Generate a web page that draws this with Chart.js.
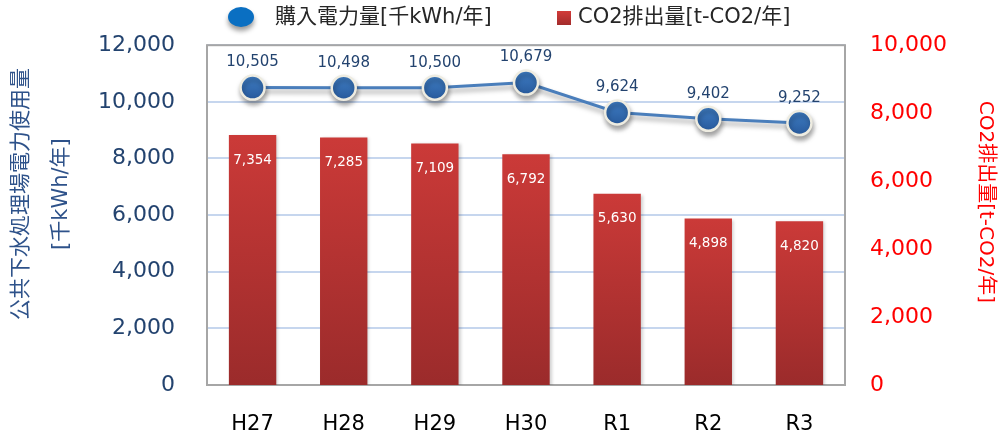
<!DOCTYPE html>
<html>
<head>
    <style>
        html, body { margin: 0; padding: 0; background: #ffffff; }
        .wrap { width: 999px; height: 434px; }
    </style>
</head>
<body>
    <div class="wrap"><canvas id="mixChart" width="999" height="434"></canvas></div>

    <script src="https://cdn.jsdelivr.net/npm/chart.js@4.4.1/dist/chart.umd.min.js"></script>
    <script>
        const years = ['H27', 'H28', 'H29', 'H30', 'R1', 'R2', 'R3'];
        const power = [10505, 10498, 10500, 10679, 9624, 9402, 9252];   // 千kWh/年
        const co2 = [7354, 7285, 7109, 6792, 5630, 4898, 4820];         // t-CO2/年
        const powerTicks = [0, 2000, 4000, 6000, 8000, 10000, 12000];
        const co2Ticks = [0, 2000, 4000, 6000, 8000, 10000];

        const powerLabel = '購入電力量[千kWh/年]';
        const co2Label = 'CO2排出量[t-CO2/年]';

        const FONT = "'DejaVu Sans', 'Noto Sans CJK JP', sans-serif";
        const BLUE_TEXT = '#23436f';
        const RED_TEXT = '#ff0000';

        const fmt = v => v.toLocaleString('en-US');

        // light blue grid lines + gray box around the chart area
        const framePlugin = {
            id: 'frame',
            beforeDatasetsDraw(chart) {
                const { ctx, chartArea: a } = chart;
                const y = chart.scales.y;
                ctx.save();
                ctx.strokeStyle = '#c6d6ee';
                ctx.lineWidth = 2;
                powerTicks.forEach(v => {
                    const py = Math.round(y.getPixelForValue(v));
                    ctx.beginPath();
                    ctx.moveTo(a.left, py);
                    ctx.lineTo(a.right, py);
                    ctx.stroke();
                });
                ctx.strokeStyle = '#a6a6a6';
                ctx.strokeRect(a.left, a.top, a.right - a.left, a.bottom - a.top);
                ctx.restore();
            }
        };

        // shadows under the line points and bars
        const shadowPlugin = {
            id: 'shadows',
            beforeDatasetDraw(chart, args) {
                const ctx = chart.ctx;
                ctx.save();
                if (args.meta.type === 'line') {
                    ctx.shadowColor = 'rgba(0,0,0,0.35)';
                    ctx.shadowBlur = 5;
                    ctx.shadowOffsetY = 4;
                    ctx.shadowOffsetX = 1;
                } else {
                    ctx.shadowColor = 'rgba(0,0,0,0.18)';
                    ctx.shadowBlur = 3;
                    ctx.shadowOffsetX = 2;
                    ctx.shadowOffsetY = 1;
                }
            },
            afterDatasetDraw(chart) {
                chart.ctx.restore();
            }
        };

        // value labels
        const labelPlugin = {
            id: 'valueLabels',
            afterDatasetsDraw(chart) {
                const ctx = chart.ctx;
                ctx.save();
                ctx.textAlign = 'center';
                ctx.textBaseline = 'middle';

                const barMeta = chart.getDatasetMeta(1);
                ctx.font = '13.5px ' + FONT;
                ctx.fillStyle = '#ffffff';
                barMeta.data.forEach((bar, i) => {
                    ctx.fillText(fmt(co2[i]), bar.x, bar.y + 25);
                });

                const lineMeta = chart.getDatasetMeta(0);
                ctx.font = '15px ' + FONT;
                ctx.fillStyle = BLUE_TEXT;
                lineMeta.data.forEach((pt, i) => {
                    ctx.fillText(fmt(power[i]), pt.x, pt.y - 25);
                });
                ctx.restore();
            }
        };

        // legend at the top
        const legendPlugin = {
            id: 'topLegend',
            afterDraw(chart) {
                const ctx = chart.ctx;
                ctx.save();
                ctx.shadowColor = 'rgba(0,0,0,0.4)';
                ctx.shadowBlur = 5;
                ctx.shadowOffsetY = 4;
                ctx.fillStyle = '#0a6fc2';
                ctx.beginPath();
                ctx.ellipse(241, 17, 13, 10, 0, 0, Math.PI * 2);
                ctx.fill();
                ctx.restore();

                ctx.save();
                const g = ctx.createLinearGradient(0, 11, 0, 25);
                g.addColorStop(0, '#d23b39');
                g.addColorStop(1, '#a32c2c');
                ctx.fillStyle = g;
                ctx.fillRect(557, 11, 14, 14);

                ctx.font = '21px ' + FONT;
                ctx.fillStyle = '#262626';
                ctx.textBaseline = 'middle';
                ctx.textAlign = 'left';
                ctx.fillText(powerLabel, 275, 18);
                ctx.fillText(co2Label, 578, 18);
                ctx.restore();
            }
        };

        const ctx = document.getElementById('mixChart').getContext('2d');

        new Chart(ctx, {
            type: 'bar',
            data: {
                labels: years,
                datasets: [
                    {
                        type: 'line',
                        label: powerLabel,
                        data: power,
                        yAxisID: 'y',
                        order: 0,
                        borderColor: '#4a7ebb',
                        borderWidth: 3,
                        pointRadius: 12,
                        pointHoverRadius: 12,
                        pointBorderWidth: 2.5,
                        pointBorderColor: '#eeece1',
                        pointBackgroundColor: c => {
                            const el = c.element;
                            if (!el || el.y === undefined) return '#3472b8';
                            const g = c.chart.ctx.createLinearGradient(0, el.y - 12, 0, el.y + 12);
                            g.addColorStop(0, '#407fc6');
                            g.addColorStop(1, '#285a9c');
                            return g;
                        },
                        tension: 0
                    },
                    {
                        type: 'bar',
                        label: co2Label,
                        data: co2,
                        yAxisID: 'y1',
                        order: 1,
                        barPercentage: 0.52,
                        categoryPercentage: 1,
                        backgroundColor: c => {
                            const chart = c.chart;
                            const area = chart.chartArea;
                            if (!area || !chart.scales.y1) return '#c0392b';
                            const top = chart.scales.y1.getPixelForValue(co2[c.dataIndex]);
                            const g = chart.ctx.createLinearGradient(0, top, 0, area.bottom);
                            g.addColorStop(0, '#cb3a38');
                            g.addColorStop(1, '#9b2b2b');
                            return g;
                        }
                    }
                ]
            },
            options: {
                responsive: false,
                animation: false,
                layout: { padding: { top: 44, left: 0, right: 0, bottom: 0 } },
                plugins: {
                    legend: { display: false },
                    tooltip: { enabled: false }
                },
                scales: {
                    x: {
                        grid: { display: false },
                        border: { display: false },
                        ticks: {
                            color: '#000000',
                            font: { family: FONT, size: 21 },
                            padding: 19
                        },
                        afterFit: s => { s.height = 49; }
                    },
                    y: {
                        position: 'left',
                        min: 0,
                        max: 12000,
                        afterBuildTicks: s => { s.ticks = powerTicks.map(v => ({ value: v })); },
                        grid: { display: false, drawTicks: false },
                        border: { display: false },
                        ticks: {
                            color: BLUE_TEXT,
                            font: { family: FONT, size: 22 },
                            padding: 32,
                            callback: v => fmt(v)
                        },
                        title: {
                            display: true,
                            text: ['　　公共下水処理場電力使用量', '　　[千kWh/年]'],
                            color: '#2e528a',
                            font: { family: FONT, size: 21, lineHeight: 1.9 },
                            padding: { top: 2, bottom: 0 }
                        },
                        afterFit: s => { s.width = 207; }
                    },
                    y1: {
                        position: 'right',
                        min: 0,
                        max: 10000,
                        afterBuildTicks: s => { s.ticks = co2Ticks.map(v => ({ value: v })); },
                        grid: { display: false, drawTicks: false },
                        border: { display: false },
                        ticks: {
                            color: RED_TEXT,
                            font: { family: FONT, size: 22 },
                            padding: 25,
                            callback: v => fmt(v)
                        },
                        title: {
                            display: true,
                            text: co2Label + '　 ',
                            color: RED_TEXT,
                            font: { family: FONT, size: 20 },
                            padding: { top: 2, bottom: 0 }
                        },
                        afterFit: s => { s.width = 154; }
                    }
                }
            },
            plugins: [framePlugin, shadowPlugin, labelPlugin, legendPlugin]
        });
    </script>
</body>
</html>
